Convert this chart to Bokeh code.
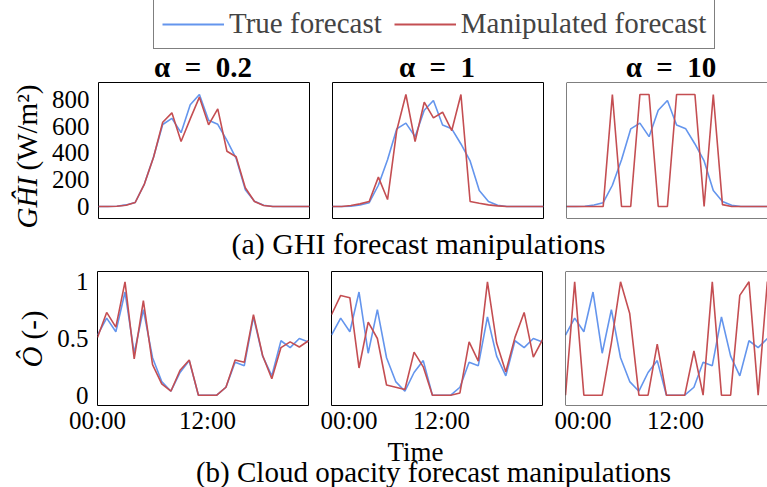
import math
from bokeh.plotting import figure
from bokeh.layouts import column, row
from bokeh.models import Range1d, FixedTicker, Legend, LegendItem, Label, Span
from bokeh.embed import file_html
from bokeh.resources import INLINE

# ---------------- data ----------------
hours = list(range(24))
x_ticks = [0, 12]
x_tick_labels = ["00:00", "12:00"]
ghi_ticks = [0, 200, 400, 600, 800]
opac_ticks = [0, 0.5, 1]
opac_tick_labels = ["0", "0.5", "1"]
alphas = ["0.2", "1", "10"]

ghi_true = [0, 0, 2, 12, 30, 168, 370, 613, 659, 552, 760, 837, 644, 614, 494, 360, 126, 40, 10, 0, 0, 0, 0, 0]
ghi_manip_a02 = [0, 0, 2, 10, 30, 168, 368, 630, 700, 486, 655, 817, 610, 730, 413, 372, 140, 37, 8, 0, 0, 0, 0, 0]
ghi_manip_a1 = [0, 0, 8, 21, 40, 232, 55, 600, 885, 513, 824, 700, 745, 600, 885, 40, 26, 13, 5, 0, 0, 0, 0, 0]
ghi_manip_a10 = [0, 0, 0, 0, 0, 885, 0, 0, 885, 885, 0, 0, 885, 885, 885, 0, 885, 15, 0, 0, 0, 0, 0, 0]

opac_true = [0.53, 0.68, 0.56, 0.91, 0.37, 0.755, 0.33, 0.12, 0.035, 0.20, 0.305, 0, 0, 0,
             0.07, 0.29, 0.26, 0.69, 0.345, 0.17, 0.48, 0.42, 0.50, 0.47]
opac_manip_a02 = [0.51, 0.73, 0.60, 1.0, 0.32, 0.835, 0.27, 0.10, 0.035, 0.22, 0.31, 0, 0, 0,
                  0.07, 0.31, 0.29, 0.71, 0.35, 0.145, 0.42, 0.47, 0.425, 0.48]
opac_manip_a1 = [0.71, 0.88, 0.86, 0.24, 0.645, 0.50, 0.09, 0.07, 0.05, 0.38, 0.25, 0, 0, 0,
                 0.02, 0.47, 0.30, 1.0, 0.46, 0.205, 0.51, 0.73, 0.335, 0.49]
opac_manip_a10 = [0, 1.0, 0, 0, 0, 0.46, 1.0, 0.72, 0, 0, 0.45, 0, 0, 0,
                  0.39, 0, 1.0, 0, 0, 0.88, 1.0, 0, 1.0, 1.0]

# ---------------- style / geometry ----------------
FONT = "Liberation Serif"
FONT_LEG = "Times New Roman"
BLUE = "#6495ED"
RED = "#C44E52"
TICK_SIZE = "25px"
LW = 1.6

PAGE_W, PAGE_H = 767, 487
YLAB_W = 48
FRAME_W = 211
CROP_W = 202          # the right-hand panels are cut by the page edge
TOP_FRAME_H = 136
BOT_FRAME_H = 134
FRAME_CENTERS = [97 + FRAME_W / 2, 331 + FRAME_W / 2, 565 + FRAME_W / 2]


def make_panel(true_vals, manip_vals, pad, frame_w, frame_h, x_end,
               b_left, b_right, b_top, b_bottom,
               show_x=False, show_y=False, y_ticks=None, y_overrides=None, outline=True):
    m = max(max(true_vals), max(manip_vals))
    p = figure(frame_width=frame_w, frame_height=frame_h,
               x_range=Range1d(0, x_end), y_range=Range1d(-pad * m, (1 + pad) * m),
               output_backend="svg", toolbar_location=None,
               min_border_left=b_left, min_border_right=b_right,
               min_border_top=b_top, min_border_bottom=b_bottom,
               background_fill_color="white", border_fill_color="white")
    p.grid.visible = False
    if outline:
        p.outline_line_color = "black"
        p.outline_line_width = 1
    else:
        p.outline_line_color = None
        for loc, dim in [(0, "height"), (-pad * m, "width"), ((1 + pad) * m, "width")]:
            p.add_layout(Span(location=loc, dimension=dim, line_color="black", line_width=1))
    p.line(hours, true_vals, line_color=BLUE, line_width=LW)
    p.line(hours, manip_vals, line_color=RED, line_width=LW)

    xa = p.xaxis[0]
    if show_x:
        xa.ticker = FixedTicker(ticks=x_ticks)
        xa.major_label_overrides = {t: l for t, l in zip(x_ticks, x_tick_labels)}
        xa.major_label_text_font = FONT
        xa.major_label_text_font_size = TICK_SIZE
        xa.major_label_text_color = "black"
        xa.major_tick_out = 0
        xa.major_tick_in = 0
        xa.minor_tick_out = 0
        xa.minor_tick_in = 0
        xa.major_label_standoff = 1
        xa.axis_line_color = None
    else:
        xa.visible = False

    ya = p.yaxis[0]
    if show_y:
        ya.ticker = FixedTicker(ticks=y_ticks)
        if y_overrides:
            ya.major_label_overrides = y_overrides
        ya.major_label_text_font = FONT
        ya.major_label_text_font_size = TICK_SIZE
        ya.major_label_text_color = "black"
        ya.major_tick_out = 0
        ya.major_tick_in = 0
        ya.minor_tick_out = 0
        ya.minor_tick_in = 0
        ya.major_label_standoff = 9
        ya.axis_line_color = None
    else:
        ya.visible = False
    return p


def text_fig(w, h):
    f = figure(width=w, height=h, x_range=Range1d(0, w), y_range=Range1d(0, h),
               output_backend="svg", toolbar_location=None, min_border=0,
               outline_line_color=None, background_fill_color="white",
               border_fill_color="white")
    f.axis.visible = False
    f.grid.visible = False
    return f


def add_text(f, fig_left, fig_top, text, px, py, size, style="normal", align="center", angle=0.0):
    """px, py: page pixels of the text anchor (py = vertical middle of the text box)."""
    h = f.height
    f.add_layout(Label(x=px - fig_left, y=fig_top + h - py, text=text, text_align=align,
                       text_baseline="middle", angle=angle, text_font=FONT,
                       text_font_size=size, text_font_style=style, text_color="black"))


# ---------------- legend row ----------------
LEG_H = 50
leg = text_fig(PAGE_W, LEG_H)
r_true = leg.line(hours, ghi_true, line_color=BLUE, line_width=2, visible=False)
r_man = leg.line(hours, ghi_manip_a02, line_color=RED, line_width=2, visible=False)
legend = Legend(items=[LegendItem(label="True forecast", renderers=[r_true]),
                       LegendItem(label="Manipulated forecast", renderers=[r_man])],
                orientation="horizontal", location=(153, 1),
                label_text_font=FONT_LEG, label_text_font_size="29px",
                glyph_width=62, glyph_height=20, label_standoff=5, spacing=12,
                padding=8, margin=0, border_line_color="black", border_line_width=1,
                background_fill_color="white", background_fill_alpha=1.0,
                inactive_fill_alpha=0.0, click_policy="none")
leg.add_layout(legend)

# ---------------- panel titles ----------------
TIT_TOP, TIT_H = LEG_H, 31
titles = text_fig(PAGE_W, TIT_H)
for cx, a in zip(FRAME_CENTERS, alphas):
    add_text(titles, 0, TIT_TOP, "\u03b1\u2002=\u2002" + a, cx, 66, "29px", style="bold")

# ---------------- top row (GHI) ----------------
MID_TOP = TIT_TOP + TIT_H
TOP_B_TOP, TOP_B_BOT = 1, 2
TOP_H = TOP_B_TOP + TOP_FRAME_H + TOP_B_BOT
GHI_PAD = 0.107
ghi_manips = [ghi_manip_a02, ghi_manip_a1, ghi_manip_a10]
t1 = make_panel(ghi_true, ghi_manips[0], GHI_PAD, FRAME_W, TOP_FRAME_H, 23, 97 - YLAB_W, 12,
                TOP_B_TOP, TOP_B_BOT, show_y=True, y_ticks=ghi_ticks)
t2 = make_panel(ghi_true, ghi_manips[1], GHI_PAD, FRAME_W, TOP_FRAME_H, 23, 11, 12, TOP_B_TOP, TOP_B_BOT)
t3 = make_panel(ghi_true, ghi_manips[2], GHI_PAD, CROP_W, TOP_FRAME_H, 23 * CROP_W / FRAME_W, 11, 0,
                TOP_B_TOP, TOP_B_BOT, outline=False)

CAP_TOP = MID_TOP + TOP_H
CAP_H = 45
cap_a = text_fig(PAGE_W - YLAB_W, CAP_H)
add_text(cap_a, YLAB_W, CAP_TOP, "(a) GHI forecast manipulations", 418, 243, "30px")

# ---------------- bottom row (opacity) ----------------
BOT_B_TOP, BOT_B_BOT = 6, 29
BOTROW_H = BOT_B_TOP + BOT_FRAME_H + BOT_B_BOT
OP_PAD = 0.091
opac_manips = [opac_manip_a02, opac_manip_a1, opac_manip_a10]
b1 = make_panel(opac_true, opac_manips[0], OP_PAD, FRAME_W, BOT_FRAME_H, 23, 97 - YLAB_W, 12,
                BOT_B_TOP, BOT_B_BOT, show_x=True, show_y=True, y_ticks=opac_ticks,
                y_overrides={t: l for t, l in zip(opac_ticks, opac_tick_labels)})
b2 = make_panel(opac_true, opac_manips[1], OP_PAD, FRAME_W, BOT_FRAME_H, 23, 11, 12, BOT_B_TOP, BOT_B_BOT,
                show_x=True)
b3 = make_panel(opac_true, opac_manips[2], OP_PAD, CROP_W, BOT_FRAME_H, 23 * CROP_W / FRAME_W, 11, 0,
                BOT_B_TOP, BOT_B_BOT, show_x=True, outline=False)

# ---------------- y-axis labels (left column) ----------------
MID_H = TOP_H + CAP_H + BOTROW_H
ylab = text_fig(YLAB_W, MID_H)
add_text(ylab, 0, MID_TOP, "GH\u0302I", 26, 228, "29px", style="italic", align="left", angle=math.pi / 2)
add_text(ylab, 0, MID_TOP, "(W/m\u00b2)", 26, 170, "29px", align="left", angle=math.pi / 2)
add_text(ylab, 0, MID_TOP, "\u00d4", 31, 367, "29px", style="italic", align="left", angle=math.pi / 2)
add_text(ylab, 0, MID_TOP, "(-)", 31, 339, "29px", align="left", angle=math.pi / 2)

# ---------------- bottom texts ----------------
BOT_TOP = MID_TOP + MID_H
BOT_H = PAGE_H - BOT_TOP
bot = text_fig(PAGE_W, BOT_H)
add_text(bot, 0, BOT_TOP, "Time", 415, BOT_TOP + 15, "27px")
add_text(bot, 0, BOT_TOP, "(b) Cloud opacity forecast manipulations", 433, 469, "29px")

layout = column(
    leg,
    titles,
    row(ylab, column(row(t1, t2, t3), cap_a, row(b1, b2, b3))),
    bot,
)

html = file_html(layout, INLINE, title="GHI and cloud opacity forecast manipulations")
with open("out.html", "w") as f:
    f.write(html)
